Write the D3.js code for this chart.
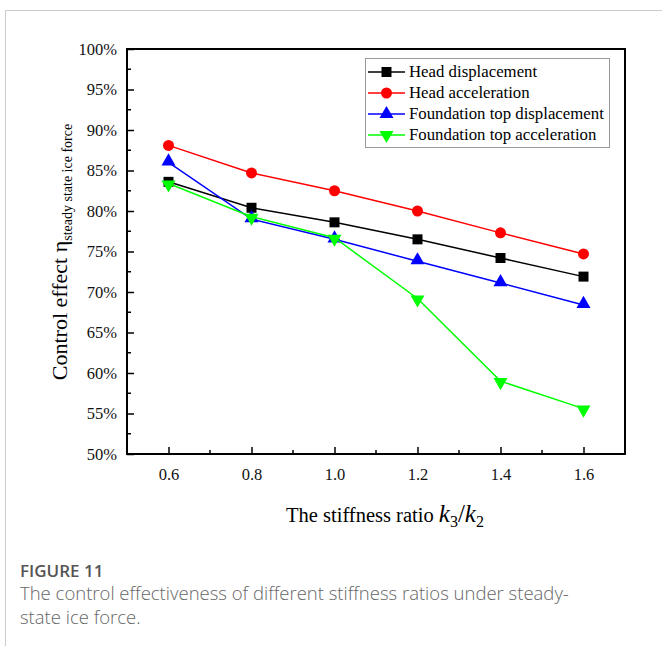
<!DOCTYPE html>
<html>
<head>
<meta charset="utf-8">
<script src="https://cdn.jsdelivr.net/npm/d3@7"></script>
<style>
  body { margin: 0; background: #fff; }
  svg text { font-family: "Liberation Serif", "Times New Roman", serif; }
  svg text.cap { font-family: "Open Sans", "Noto Sans", sans-serif; }
</style>
</head>
<body>
<svg id="chart" width="662" height="646"></svg>
<script>
// stiffness ratio k3/k2
var ratios = [0.6, 0.8, 1.0, 1.2, 1.4, 1.6];

// control effect in %
var headDisp = [83.6, 80.4, 78.6, 76.5, 74.2, 71.9];
var headAcc = [88.1, 84.7, 82.5, 80.0, 77.3, 74.7];
var foundDisp = [86.0, 79.0, 76.5, 73.8, 71.1, 68.4];
var foundAcc = [83.4, 79.3, 76.7, 69.2, 59.0, 55.6];

var xTicks = [0.6, 0.8, 1.0, 1.2, 1.4, 1.6];
var yTicks = [50, 55, 60, 65, 70, 75, 80, 85, 90, 95, 100];

var series = [
  {name: "Head displacement", values: headDisp, color: "#000000", symbol: d3.symbolSquare, size: 100, rot: 0},
  {name: "Head acceleration", values: headAcc, color: "#ff0000", symbol: d3.symbolCircle, size: 95, rot: 0},
  {name: "Foundation top displacement", values: foundDisp, color: "#0000ff", symbol: d3.symbolTriangle, size: 85, rot: 0},
  {name: "Foundation top acceleration", values: foundAcc, color: "#00ff00", symbol: d3.symbolTriangle, size: 85, rot: 180}
];

var svg = d3.select("#chart");

// card border
svg.append("path")
  .attr("d", "M5.5,646 L5.5,10.5 L662,10.5")
  .attr("fill", "none").attr("stroke", "#cccccc").attr("stroke-width", 1);

var pLeft = 127, pRight = 625, pTop = 49, pBottom = 454;

var x = d3.scaleLinear().domain([0.5, 1.7]).range([pLeft, pRight]);
var y = d3.scaleLinear().domain([50, 100]).range([pBottom, pTop]);

// minor ticks
var g = svg.append("g");
[0.7, 0.9, 1.1, 1.3, 1.5].forEach(function(v) {
  g.append("line").attr("x1", x(v)).attr("x2", x(v)).attr("y1", pBottom).attr("y2", pBottom - 4)
    .attr("stroke", "#000").attr("stroke-width", 1.5);
});
d3.range(52.5, 100, 5).forEach(function(v) {
  g.append("line").attr("x1", pLeft).attr("x2", pLeft + 4).attr("y1", y(v)).attr("y2", y(v))
    .attr("stroke", "#000").attr("stroke-width", 1.5);
});

// axes
var xAxis = svg.append("g").attr("transform", "translate(0," + pBottom + ")")
  .call(d3.axisBottom(x).tickValues(xTicks).tickSize(-7).tickPadding(14).tickFormat(d3.format(".1f")));
var yAxis = svg.append("g").attr("transform", "translate(" + pLeft + ",0)")
  .call(d3.axisLeft(y).tickValues(yTicks).tickSize(-7).tickPadding(10).tickFormat(function(d) { return d + "%"; }));

[xAxis, yAxis].forEach(function(a) {
  a.attr("font-size", 16.5).attr("font-family", null);
  a.select(".domain").remove();
  a.selectAll(".tick line").attr("stroke-width", 1.5);
  a.selectAll(".tick text").attr("fill", "#111");
});

// frame
svg.append("rect").attr("x", pLeft).attr("y", pTop).attr("width", pRight - pLeft).attr("height", pBottom - pTop)
  .attr("fill", "none").attr("stroke", "#000").attr("stroke-width", 2);

// lines and markers
var line = d3.line().x(function(d, i) { return x(ratios[i]); }).y(function(d) { return y(d); });

series.forEach(function(s) {
  svg.append("path").datum(s.values).attr("d", line)
    .attr("fill", "none").attr("stroke", s.color).attr("stroke-width", 1.5);
  svg.selectAll(null).data(s.values).enter().append("path")
    .attr("d", d3.symbol().type(s.symbol).size(s.size))
    .attr("transform", function(d, i) {
      var dy = s.symbol === d3.symbolTriangle ? (s.rot ? 1 : -1) : 0;
      return "translate(" + x(ratios[i]) + "," + (y(d) + dy) + ") rotate(" + s.rot + ")";
    })
    .attr("fill", s.color);
});

// legend
var lg = svg.append("g");
lg.append("rect").attr("x", 365.5).attr("y", 58.5).attr("width", 244).attr("height", 89)
  .attr("fill", "#fff").attr("stroke", "#999").attr("stroke-width", 1);
series.forEach(function(s, i) {
  var ly = 72 + i * 21;
  lg.append("line").attr("x1", 368).attr("x2", 405).attr("y1", ly).attr("y2", ly)
    .attr("stroke", s.color).attr("stroke-width", 1.5);
  lg.append("path").attr("d", d3.symbol().type(s.symbol).size(s.size))
    .attr("transform", "translate(386.5," + ly + ") rotate(" + s.rot + ")")
    .attr("fill", s.color);
  lg.append("text").attr("x", 409).attr("y", ly + 5).attr("font-size", 16.8).text(s.name);
});

// y title
var yt = svg.append("text").attr("transform", "translate(67,252) rotate(-90)")
  .attr("text-anchor", "middle").attr("font-size", 22);
yt.append("tspan").text("Control effect  η");
yt.append("tspan").attr("font-size", 14).attr("dy", 5).text("steady state ice force");

// x title
var xt = svg.append("text").attr("x", 385).attr("y", 522).attr("text-anchor", "middle").attr("font-size", 20.5);
xt.append("tspan").text("The stiffness ratio ");
xt.append("tspan").attr("font-style", "italic").attr("font-size", 25).text("k");
xt.append("tspan").attr("font-size", 16).attr("dy", 5).text("3");
xt.append("tspan").attr("font-size", 25).attr("dy", -5).text("/");
xt.append("tspan").attr("font-style", "italic").attr("font-size", 25).text("k");
xt.append("tspan").attr("font-size", 16).attr("dy", 5).text("2");

// caption
svg.append("text").attr("class", "cap").attr("x", 20).attr("y", 577)
  .attr("font-size", 17).attr("font-weight", 600).attr("fill", "#555").text("FIGURE 11");
svg.append("text").attr("class", "cap").attr("x", 20).attr("y", 600)
  .attr("font-size", 18.5).attr("font-weight", 300).attr("fill", "#666")
  .text("The control effectiveness of different stiffness ratios under steady-");
svg.append("text").attr("class", "cap").attr("x", 20).attr("y", 624)
  .attr("font-size", 18.5).attr("font-weight", 300).attr("fill", "#666")
  .text("state ice force.");
</script>
</body>
</html>
